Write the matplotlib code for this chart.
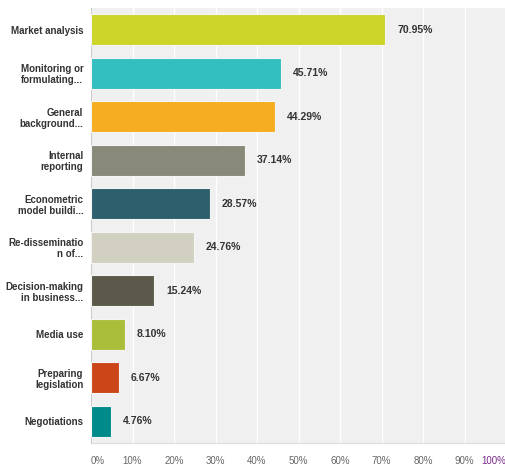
import matplotlib
matplotlib.use('Agg')
import matplotlib.pyplot as plt
import numpy as np

# data
categories = ['Market analysis', 'Monitoring or\nformulating...', 'General\nbackground...',
              'Internal\nreporting', 'Econometric\nmodel buildi...', 'Re-disseminatio\nn of...',
              'Decision-making\nin business...', 'Media use', 'Preparing\nlegislation',
              'Negotiations']
values = [70.95, 45.71, 44.29, 37.14, 28.57, 24.76, 15.24, 8.10, 6.67, 4.76]
colors = ['#cdd42a', '#33bebf', '#f6ae20', '#89897a', '#2e5f6d',
          '#d1d0c1', '#5b5a4a', '#abbe3a', '#cc4519', '#008a8a']
xticks = list(range(0, 101, 10))
xtick_labels = [f'{t}%' for t in xticks]

plt.rcParams['font.family'] = ['Liberation Sans', 'DejaVu Sans']

W, H = 505, 466
fig = plt.figure(figsize=(W / 100, H / 100), dpi=100)
ax = fig.add_axes([91 / W, 1 - 443 / H, 415 / W, 435 / H])
ax.set_facecolor('#f0f0f0')

y = np.arange(len(values))
ax.barh(y, values, height=0.71, color=colors, edgecolor='#f4f4f4', linewidth=0.8, zorder=3)
for yi, v in zip(y, values):
    ax.annotate(f'{v:.2f}%', (v, yi), xytext=(8.5, 0), textcoords='offset points',
                ha='left', va='center', fontsize=7.5, fontweight='bold', color='#333333')

ax.set_xlim(0, 100)
ax.set_ylim(len(values) - 0.5, -0.5)
ax.set_yticks(y)
ax.set_yticklabels(categories, fontsize=7, fontweight='bold', color='#333333',
                   linespacing=1.1)
ax.set_xticks(xticks)
ax.set_xticklabels(xtick_labels, fontsize=7, color='#666666')
labs = ax.get_xticklabels()
labs[0].set_horizontalalignment('left')
labs[-1].set_color('#7b2a8c')
labs[-1].set_horizontalalignment('right')
ax.tick_params(axis='both', length=0)
ax.tick_params(axis='y', pad=5.5)
ax.tick_params(axis='x', pad=9)

ax.grid(axis='x', color='white', linewidth=1.0, zorder=0)
ax.set_axisbelow(True)
for s in ['top', 'right']:
    ax.spines[s].set_visible(False)
ax.spines['left'].set_color('#cccccc')
ax.spines['bottom'].set_color('#dddddd')

fig.savefig('out.png', dpi=100)
